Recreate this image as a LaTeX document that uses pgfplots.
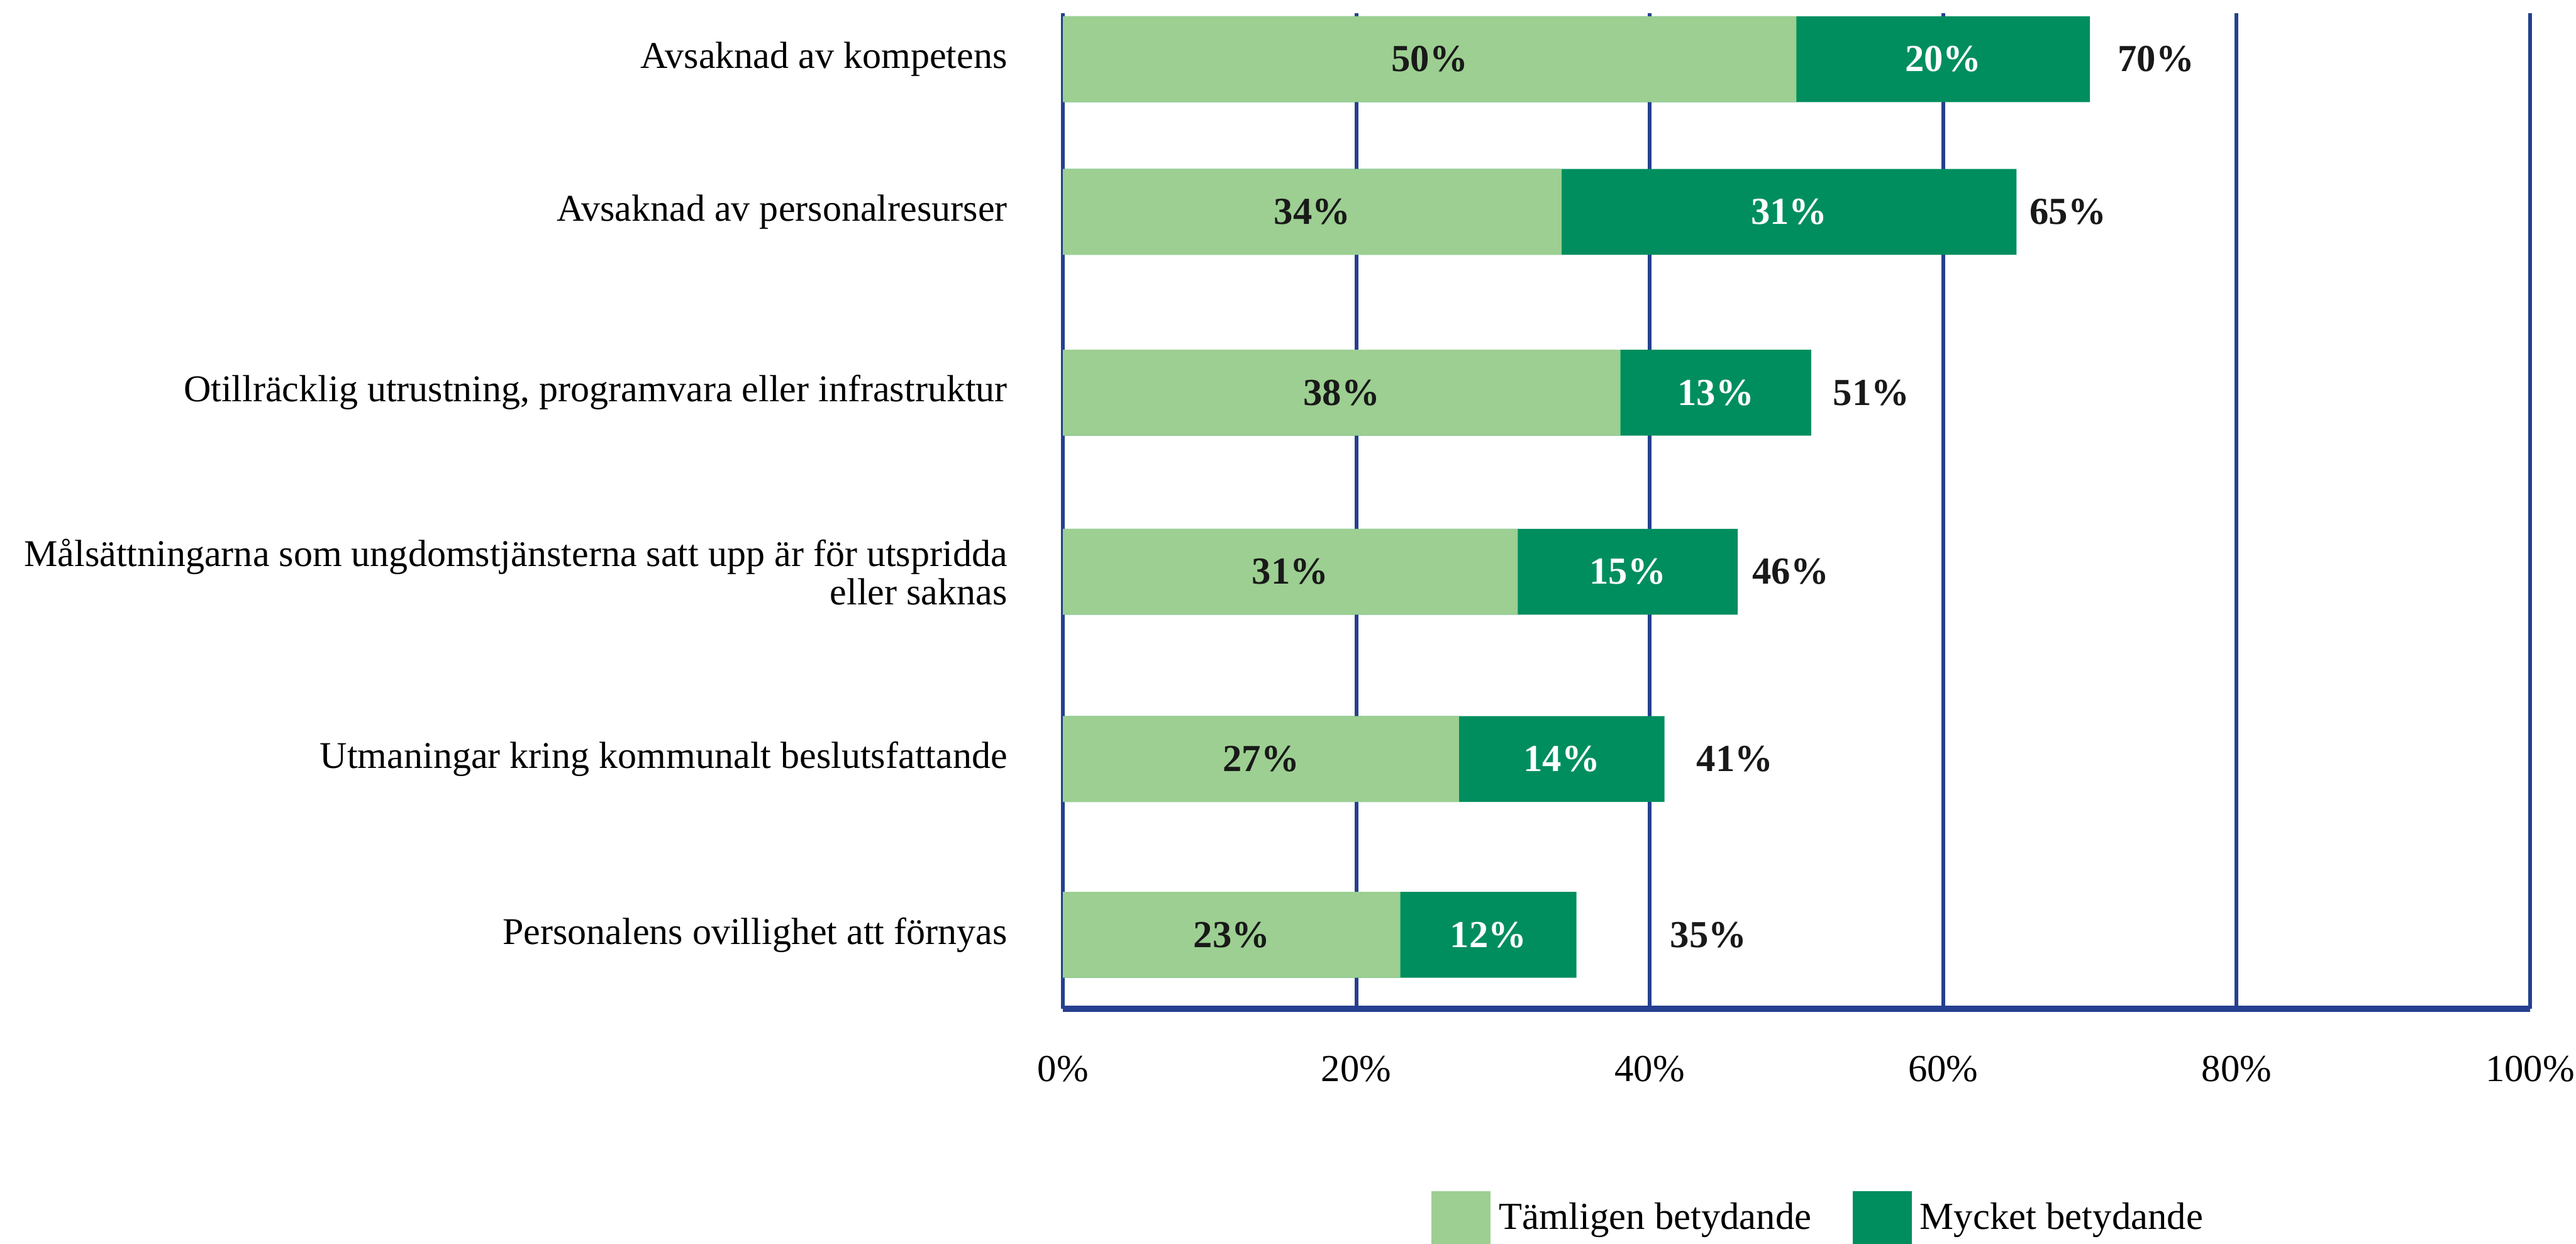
\documentclass[border=0pt]{standalone}
\usepackage{pgfplots}
\pgfplotsset{compat=1.18}
\usepackage{fontspec}
\setmainfont{Liberation Serif}
\definecolor{lgreen}{RGB}{156,207,145}
\definecolor{dgreen}{RGB}{0,142,94}
\definecolor{gblue}{RGB}{37,64,143}
\begin{document}
\begin{tikzpicture}
\path[use as bounding box] (0,0) rectangle (627.2pt,302.8pt);
\begin{axis}[
  at={(258.8pt,57.2pt)}, anchor=south west,
  scale only axis, width=357.2pt, height=242.4pt,
  xmin=0, xmax=100, ymin=-0.263, ymax=5.422, y dir=reverse,
  enlargelimits=false, clip=false,
  axis x line*=bottom, axis y line*=left,
  x axis line style={gblue, line width=1.6pt, -},
  y axis line style={draw=none},
  xmajorgrids, major grid style={gblue, line width=0.95pt},
  major tick length=0pt,
  xtick={0,20,40,60,80,100},
  xticklabels={0\%,20\%,40\%,60\%,80\%,100\%},
  xticklabel style={font=\fontsize{9.3pt}{11pt}\selectfont, yshift=-8pt},
  ytick={0,0.872,1.904,2.927,3.996,5},
  yticklabels={Avsaknad av kompetens,Avsaknad av personalresurser,{Otillräcklig utrustning, programvara eller infrastruktur},{Målsättningarna som ungdomstjänsterna satt upp är för utspridda\\eller saknas},Utmaningar kring kommunalt beslutsfattande,Personalens ovillighet att förnyas},
  yticklabel style={font=\fontsize{9.2pt}{8pt}\selectfont, align=right, xshift=-10pt},
  legend style={draw=none, fill=none, at={(0.517,-0.213)}, anchor=center,
    font=\fontsize{9.3pt}{11pt}\selectfont, legend columns=2,
    /tikz/every even column/.append style={column sep=8pt}},
  legend cell align=left,
]
% bars: dark = total (drawn first), light drawn over it
\addplot[xbar, bar shift=0pt, bar width=0.49, fill=dgreen, draw=none, forget plot]
  coordinates {(70,0) (65,0.872) (51,1.904) (46,2.927) (41,3.996) (35,5)};
\addplot[xbar, bar shift=0pt, bar width=0.49, fill=lgreen, draw=none, forget plot]
  coordinates {(50,0) (34,0.872) (38,1.904) (31,2.927) (27,3.996) (23,5)};
% light segment labels
\addplot[draw=none, mark=none, forget plot, point meta=explicit,
  nodes near coords={\pgfmathprintnumber[assume math mode=true]{\pgfplotspointmeta}\%},
  nodes near coords style={anchor=center, font=\fontsize{9.3pt}{11pt}\selectfont\bfseries, text=black!90}]
  coordinates {(25,0)[50] (17,0.872)[34] (19,1.904)[38] (15.5,2.927)[31] (13.5,3.996)[27] (11.5,5)[23]};
% dark segment labels
\addplot[draw=none, mark=none, forget plot, point meta=explicit,
  nodes near coords={\pgfmathprintnumber[assume math mode=true]{\pgfplotspointmeta}\%},
  nodes near coords style={anchor=center, font=\fontsize{9.3pt}{11pt}\selectfont\bfseries, text=white}]
  coordinates {(60,0)[20] (49.5,0.872)[31] (44.5,1.904)[13] (38.5,2.927)[15] (34,3.996)[14] (29,5)[12]};
% totals
\addplot[draw=none, mark=none, forget plot, point meta=explicit,
  nodes near coords={\pgfmathprintnumber[assume math mode=true]{\pgfplotspointmeta}\%},
  nodes near coords style={anchor=center, font=\fontsize{9.3pt}{11pt}\selectfont\bfseries, text=black!90}]
  coordinates {(74.5,0)[70] (68.5,0.872)[65] (55.1,1.904)[51] (49.6,2.927)[46] (45.8,3.996)[41] (44.0,5)[35]};
\addlegendimage{legend image code/.code={\fill[lgreen] (0pt,-7.5pt) rectangle (14pt,6.5pt);}}
\addlegendentry{Tämligen betydande}
\addlegendimage{legend image code/.code={\fill[dgreen] (0pt,-7.5pt) rectangle (14pt,6.5pt);}}
\addlegendentry{Mycket betydande}
\end{axis}
\end{tikzpicture}
\end{document}
